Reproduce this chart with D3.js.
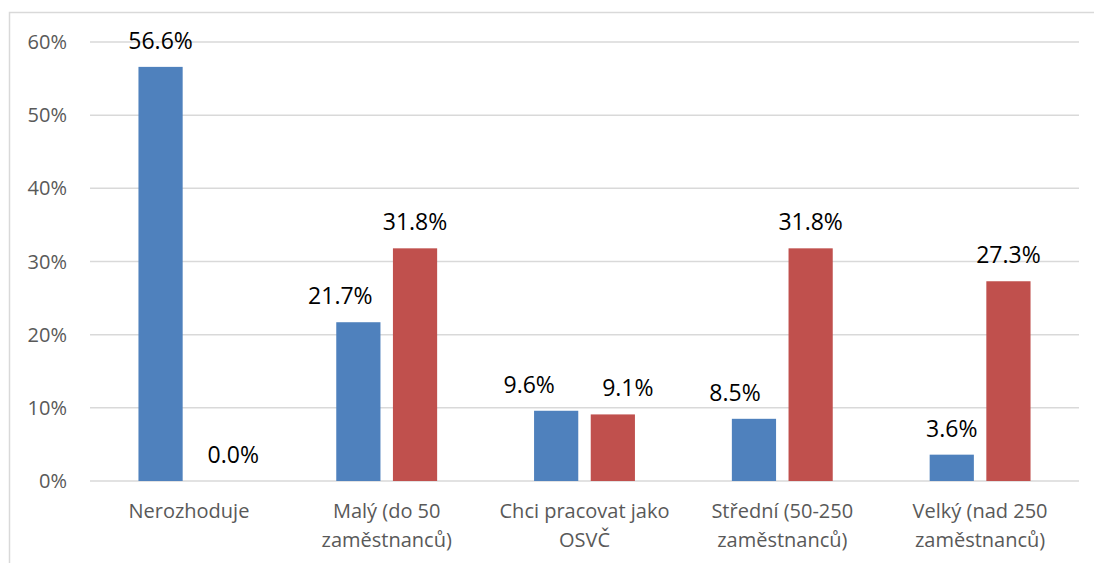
<!DOCTYPE html>
<html>
<head>
<meta charset="utf-8">
<style>
body { margin: 0; background: #fff; }
svg { font-family: "Open Sans", sans-serif; }
.grid line { stroke: #d9d9d9; stroke-width: 1.5px; }
.tick-label { fill: #595959; font-size: 20px; }
.cat-label { fill: #595959; font-size: 20px; }
.value-label { fill: #000; font-size: 23px; }
</style>
</head>
<body>
<svg width="1094" height="563"></svg>
<script src="https://cdn.jsdelivr.net/npm/d3@7"></script>
<script>
var categories = [
  ["Nerozhoduje"],
  ["Malý (do 50", "zaměstnanců)"],
  ["Chci pracovat jako", "OSVČ"],
  ["Střední (50-250", "zaměstnanců)"],
  ["Velký (nad 250", "zaměstnanců)"]
];
var seriesA = [56.6, 21.7, 9.6, 8.5, 3.6];
var seriesB = [0.0, 31.8, 9.1, 31.8, 27.3];
var seriesColors = ["#4f81bd", "#c0504d"];
var yTicks = [0, 10, 20, 30, 40, 50, 60];

// hand-moved data labels in the original (px, horizontal)
var labelNudgeA = [0, -18, -27, -19, 0];
var labelNudgeB = [16, 0, 15, 0, 0];

var svg = d3.select("svg");

// outer chart border
svg.append("rect")
    .attr("x", 9.5).attr("y", 12.5)
    .attr("width", 1200).attr("height", 700)
    .attr("fill", "none")
    .attr("stroke", "#d9d9d9")
    .attr("stroke-width", 1.5);

var plotLeft = 90, plotRight = 1079, plotTop = 42, plotBottom = 481;

var x0 = d3.scaleBand()
    .domain(d3.range(categories.length))
    .range([plotLeft, plotRight])
    .paddingInner(0.49)
    .paddingOuter(0.245);

var x1 = d3.scaleBand()
    .domain([0, 1])
    .range([0, x0.bandwidth()])
    .paddingInner(0.22);

var y = d3.scaleLinear().domain([0, 60]).range([plotBottom, plotTop]);

var grid = svg.append("g").attr("class", "grid");
grid.selectAll("line")
    .data(yTicks)
    .enter().append("line")
      .attr("x1", plotLeft).attr("x2", plotRight)
      .attr("y1", function(d) { return y(d); })
      .attr("y2", function(d) { return y(d); });

svg.append("g").selectAll("text")
    .data(yTicks)
    .enter().append("text")
      .attr("class", "tick-label")
      .attr("x", 67)
      .attr("y", function(d) { return y(d); })
      .attr("dy", "0.35em")
      .attr("text-anchor", "end")
      .text(function(d) { return d + "%"; });

var rows = categories.map(function(c, i) {
  return [
    { i: i, s: 0, v: seriesA[i], nudge: labelNudgeA[i] },
    { i: i, s: 1, v: seriesB[i], nudge: labelNudgeB[i] }
  ];
});

var group = svg.append("g").selectAll("g")
    .data(rows)
    .enter().append("g")
      .attr("transform", function(d, i) { return "translate(" + x0(i) + ",0)"; });

group.selectAll("rect")
    .data(function(d) { return d; })
    .enter().append("rect")
      .attr("x", function(d) { return x1(d.s); })
      .attr("width", x1.bandwidth())
      .attr("y", function(d) { return y(d.v); })
      .attr("height", function(d) { return y(0) - y(d.v); })
      .attr("fill", function(d) { return seriesColors[d.s]; });

group.selectAll("text")
    .data(function(d) { return d; })
    .enter().append("text")
      .attr("class", "value-label")
      .attr("x", function(d) { return x1(d.s) + x1.bandwidth() / 2 + d.nudge; })
      .attr("y", function(d) { return y(d.v) - 18; })
      .attr("text-anchor", "middle")
      .text(function(d) { return d.v.toFixed(1) + "%"; });

var cat = svg.append("g").selectAll("text")
    .data(categories)
    .enter().append("text")
      .attr("class", "cat-label")
      .attr("text-anchor", "middle")
      .attr("x", function(d, i) { return x0(i) + x0.bandwidth() / 2; })
      .attr("y", 518);

cat.selectAll("tspan")
    .data(function(d) { return d; })
    .enter().append("tspan")
      .attr("x", function() { return d3.select(this.parentNode).attr("x"); })
      .attr("dy", function(d, j) { return j === 0 ? 0 : 29; })
      .text(function(d) { return d; });
</script>
</body>
</html>
